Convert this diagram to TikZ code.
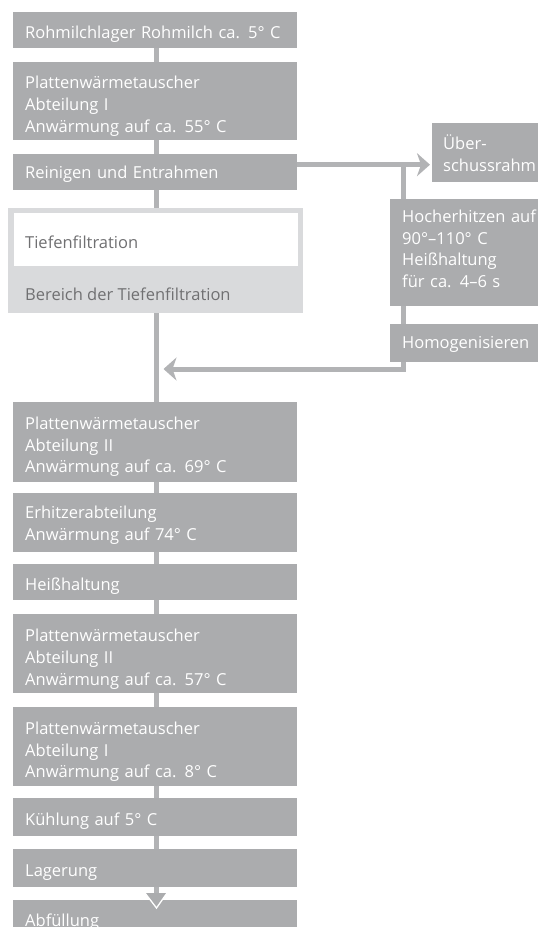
\documentclass[tikz,border=0pt]{standalone}
\usepackage{fontspec}
\setmainfont{Open Sans}
\usetikzlibrary{arrows.meta,backgrounds}
\definecolor{boxgray}{HTML}{ABACAE}
\definecolor{linegray}{HTML}{B2B3B5}
\definecolor{lightgray}{HTML}{D9DADC}
\definecolor{darktext}{HTML}{707072}
\tikzset{
  procbox/.style={rectangle, fill=boxgray, text=white, anchor=north west,
    inner xsep=12pt, inner ysep=0pt, align=left, font=\fontsize{16.5}{21.8}\selectfont},
  conn/.style={draw=linegray, line width=5pt, line join=miter},
  tip/.style={-{Stealth[length=13pt,width=23pt,inset=4pt]}},
}
% #1 name, #2 x, #3 y, #4 height, #5 text height, #6 text depth, #7 text
\newcommand{\pbox}[7]{%
  \node[procbox, minimum width=284pt, minimum height=#4pt, text width=260pt,
        text height=#5pt, text depth=#6pt] (#1) at (#2,#3) {#7};}
\begin{document}
\begin{tikzpicture}[x=1pt,y=-1pt]
\useasboundingbox (0,0) rectangle (538,927);
\clip (0,0) rectangle (538,927);
\coordinate (sp) at (156.5,0);
% main chain
\pbox{b1}{13}{12}{36}{26}{10}{Rohmilchlager Rohmilch ca. 5° C}
\pbox{b2}{13}{62}{78}{26.5}{51.5}{Plattenwärmetauscher\\Abteilung I\\Anwärmung auf ca. 55° C}
\pbox{b3}{13}{154}{36}{24.5}{11.5}{Reinigen und Entrahmen}
% filtration area
\node[rectangle, fill=lightgray, anchor=north west, minimum width=295pt, minimum height=105pt, inner sep=0pt] (filt) at (8,208) {};
\node[rectangle, fill=white, anchor=north west, minimum width=284pt, minimum height=53pt, inner xsep=11pt, inner ysep=0pt, text width=262pt, align=left, text=darktext, text height=35pt, text depth=18pt, font=\fontsize{16.5}{21.8}\selectfont] (tief) at (14,213) {Tiefenfiltration};
\node[anchor=base west, inner sep=0pt, text=darktext, font=\fontsize{16.5}{21.8}\selectfont] (bereich) at (25,300) {Bereich der Tiefenfiltration};
\pbox{b4}{13}{402}{80}{27}{53}{Plattenwärmetauscher\\Abteilung II\\Anwärmung auf ca. 69° C}
\pbox{b5}{13}{493}{59}{25.5}{33.5}{Erhitzerabteilung\\Anwärmung auf 74° C}
\pbox{b6}{13}{564}{36}{26}{10}{Heißhaltung}
\pbox{b7}{13}{614}{79}{27.5}{51.5}{Plattenwärmetauscher\\Abteilung II\\Anwärmung auf ca. 57° C}
\pbox{b8}{13}{707}{79}{27}{52}{Plattenwärmetauscher\\Abteilung I\\Anwärmung auf ca. 8° C}
\pbox{b9}{13}{798}{38}{27.5}{10.5}{Kühlung auf 5° C}
\pbox{b10}{13}{849}{38}{27}{11}{Lagerung}
\pbox{b11}{13}{900}{40}{26}{14}{Abfüllung}
% right branch
\node[procbox, minimum width=160pt, minimum height=59pt, text width=138pt, inner xsep=11pt, text height=26pt, text depth=33pt] (r1) at (432,123) {Über-\\schussrahm};
\node[procbox, minimum width=200pt, minimum height=107pt, text width=176pt, text height=23pt, text depth=84pt] (r2) at (390,199) {Hocherhitzen auf\\90°–110° C\\Heißhaltung\\für ca. 4–6 s};
\node[procbox, minimum width=200pt, minimum height=38pt, text width=176pt, text height=24.5pt, text depth=13.5pt] (r3) at (390,324) {Homogenisieren};
\coordinate (brx) at (403.5,0);
\coordinate (bry) at ([yshift=7.5pt]b3.east);
\coordinate (rety) at (0,369);
\coordinate (lagtip) at (156.5,908);
% connectors
\begin{scope}[on background layer]
\draw[conn] (b1.south -| sp) -- (b2.north -| sp);
\draw[conn] (b2.south -| sp) -- (b3.north -| sp);
\draw[conn] (b3.south -| sp) -- (filt.north -| sp);
\draw[conn] (filt.south -| sp) -- (b4.north -| sp);
\draw[conn] (b4.south -| sp) -- (b5.north -| sp);
\draw[conn] (b5.south -| sp) -- (b6.north -| sp);
\draw[conn] (b6.south -| sp) -- (b7.north -| sp);
\draw[conn] (b7.south -| sp) -- (b8.north -| sp);
\draw[conn] (b8.south -| sp) -- (b9.north -| sp);
\draw[conn] (b9.south -| sp) -- (b10.north -| sp);
\draw[conn, tip] (b3.east |- bry) -- ([xshift=-2pt]r1.west |- bry);
\draw[conn, tip] (brx |- bry) -- (brx |- rety) -- ([xshift=7pt]sp |- rety);
\end{scope}
% final arrow into Abfüllung
\draw[conn] (b10.south -| sp) -- ([yshift=2pt]sp |- b11.north);
\fill[boxgray] (145,893) -- (lagtip) -- (167,893) -- cycle;
\draw[white, line width=1.3pt] (145,893) -- (lagtip) -- (167,893);
\end{tikzpicture}
\end{document}
